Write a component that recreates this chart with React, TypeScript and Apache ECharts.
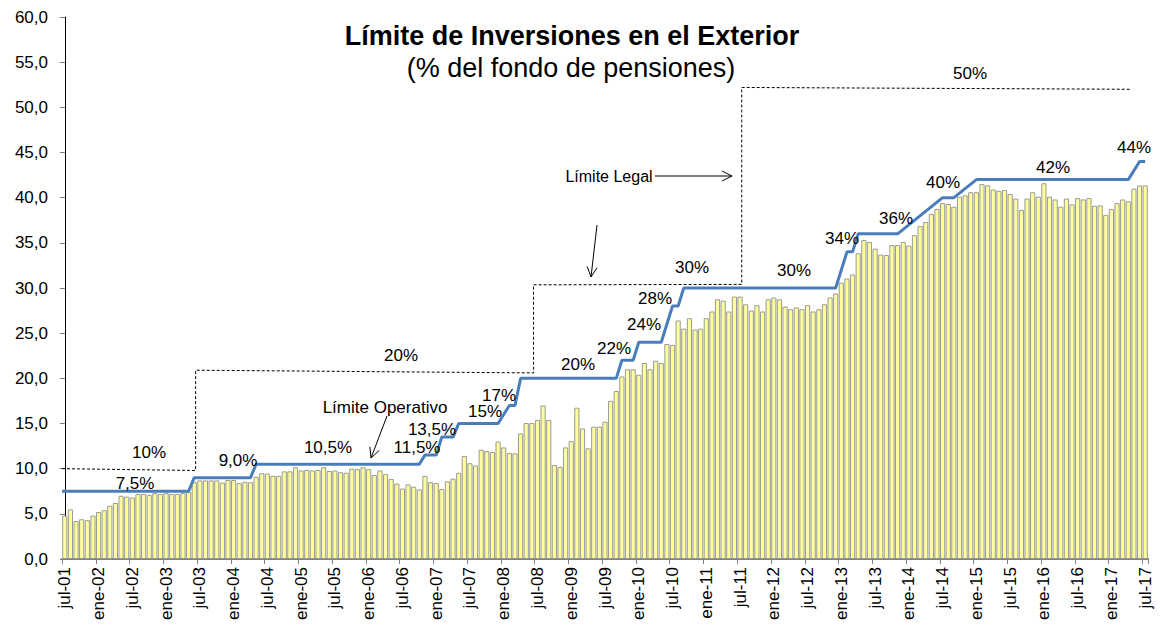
import React, { useEffect, useRef } from "react";
import * as echarts from "echarts";

const monthNames = ["ene", "feb", "mar", "abr", "may", "jun", "jul", "ago", "sep", "oct", "nov", "dic"];
const startYear = 2001;
const startMonth = 6; // jul
const monthCount = 193; // jul-01 .. jul-17

// Inversión en el exterior (% del fondo), mensual jul-01 .. jul-17
const foreignShare = [
  4.8, 5.5, 4.2, 4.4, 4.3, 4.8, 5.2, 5.4, 5.9, 6.2, 7.0, 6.9,
  6.8, 7.2, 7.2, 7.1, 7.3, 7.2, 7.3, 7.2, 7.2, 7.3, 7.4, 8.5,
  8.7, 8.7, 8.7, 8.7, 8.45, 8.75, 8.75, 8.4, 8.55, 8.5, 9.1, 9.5,
  9.45, 9.2, 9.2, 9.7, 9.7, 10.15, 9.8, 9.85, 9.8, 9.85, 10.15, 9.75,
  9.8, 9.6, 9.55, 10.0, 9.95, 10.15, 9.95, 9.3, 9.8, 9.4, 8.85, 8.35,
  7.8, 8.25, 8.0, 7.7, 9.2, 8.5, 8.4, 7.75, 8.6, 8.9, 9.55, 11.4,
  10.6, 10.35, 12.1, 11.95, 11.85, 13.0, 12.35, 11.75, 11.7, 13.9, 15.05, 15.05,
  15.4, 17.0, 15.4, 10.4, 10.2, 12.35, 13.05, 16.75, 14.45, 12.25, 14.65, 14.65,
  15.2, 17.5, 18.6, 20.2, 21.0, 21.0, 20.4, 21.7, 21.0, 21.95, 21.7, 23.8,
  23.7, 26.4, 25.5, 26.65, 25.4, 25.5, 26.65, 27.4, 28.75, 28.6, 27.4, 29.05,
  29.05, 28.2, 27.5, 28.1, 27.4, 28.75, 28.95, 28.75, 27.95, 27.65, 27.85, 27.65,
  28.1, 27.4, 27.65, 28.2, 28.95, 29.4, 30.6, 31.05, 31.5, 33.85, 35.3, 35.1,
  34.35, 33.7, 33.65, 34.75, 34.75, 35.1, 34.7, 35.85, 36.85, 37.3, 38.2, 38.75,
  39.4, 39.3, 39.0, 40.1, 40.25, 40.6, 40.6, 41.5, 41.35, 40.9, 40.75, 40.85,
  40.4, 39.9, 38.65, 39.9, 40.6, 40.1, 41.6, 40.1, 39.8, 39.0, 39.9, 39.25,
  39.95, 39.8, 39.95, 39.1, 39.15, 38.1, 38.75, 39.4, 39.8, 39.6, 41.0, 41.35,
  41.35,
];

// Límite Operativo: vértices (índice de mes, %)
const operativeX = [-0.5, 22, 23, 33, 34, 63, 64, 66, 67, 69, 70, 77, 79, 80, 81, 98, 99, 101, 102, 106, 108, 109, 110, 137, 139, 140, 141, 148, 156, 158, 162, 189, 191, 192];
const operativeY = [7.5, 7.5, 9.0, 9.0, 10.5, 10.5, 11.5, 11.5, 13.5, 13.5, 15, 15, 17, 17, 20, 20, 22, 22, 24, 24, 28, 28, 30, 30, 34, 34, 36, 36, 40, 40, 42, 42, 44, 44];

// Límite Legal: vértices (índice de mes, %)
const legalX = [-0.5, 23.25, 23.25, 83.3, 83.3, 120.3, 120.3, 189.3];
const legalY = [10.0, 9.8, 20.9, 20.6, 30.35, 30.4, 52.2, 52.0];

// Etiquetas de los límites
const labelTexts = ["10%", "7,5%", "9,0%", "20%", "10,5%", "11,5%", "13,5%", "15%", "17%", "20%", "22%", "24%", "28%", "30%", "30%", "34%", "36%", "40%", "42%", "44%", "50%"];
const labelPos: [number, number][] = [
  [149, 452], [135, 483], [238, 460], [401, 355], [328, 447], [417, 447], [432, 429], [485, 411], [499, 395],
  [578, 364], [614, 348], [644, 324], [655, 298], [692, 267], [794, 270], [842, 238], [896, 218], [943, 182],
  [1053, 167], [1134, 147], [970, 73],
];

const yTicks = { min: 0, max: 60, interval: 5 };

const FONT = '"Liberation Sans", Arial, sans-serif';

function buildCategories(): string[] {
  const out: string[] = [];
  for (let i = 0; i < monthCount; i++) {
    const m = (startMonth + i) % 12;
    const y = startYear + Math.floor((startMonth + i) / 12);
    out.push(monthNames[m] + "-" + String(y % 100).padStart(2, "0"));
  }
  return out;
}

export default function App() {
  const ref = useRef<HTMLDivElement>(null);
  useEffect(() => {
    if (!ref.current) return;
    const chart = echarts.init(ref.current, null, { renderer: "svg" });
    const categories = buildCategories();
    const operative = operativeX.map((x, i) => [x, operativeY[i]]);
    const legal = legalX.map((x, i) => [x, legalY[i]]);

    const textEls: any[] = labelTexts.map((t, i) => ({
      type: "text",
      x: labelPos[i][0],
      y: labelPos[i][1],
      style: { text: t, fill: "#000", fontSize: 17, fontFamily: FONT, align: "center", verticalAlign: "middle" },
      z: 100,
    }));

    const arrowStyle = { stroke: "#000", lineWidth: 1, fill: "none" };

    chart.setOption({
      animation: false,
      backgroundColor: "#fff",
      grid: { left: 62, right: 12, top: 17, bottom: 66, containLabel: false },
      xAxis: [
        {
          type: "category",
          data: categories,
          boundaryGap: true,
          axisLine: { lineStyle: { color: "#808080", width: 2 } },
          axisTick: { show: true, interval: 5, length: 5, lineStyle: { color: "#808080" } },
          axisLabel: { interval: 5, rotate: 90, fontSize: 17, fontFamily: FONT, color: "#000", margin: 8 },
          splitLine: { show: false },
        },
        {
          type: "value",
          min: -0.5,
          max: monthCount - 0.5,
          show: false,
          position: "top",
        },
      ],
      yAxis: {
        type: "value",
        min: yTicks.min,
        max: yTicks.max,
        interval: yTicks.interval,
        axisLine: { show: true, lineStyle: { color: "#000", width: 1 } },
        axisTick: { show: true, length: 5, lineStyle: { color: "#808080" } },
        axisLabel: {
          fontSize: 17,
          fontFamily: FONT,
          color: "#000",
          margin: 14,
          formatter: (v: number) => v.toFixed(1).replace(".", ","),
        },
        splitLine: { show: false },
      },
      series: [
        {
          type: "bar",
          name: "Inversión en el exterior",
          data: foreignShare,
          xAxisIndex: 0,
          barCategoryGap: "8%",
          itemStyle: { color: "#FFFF99", borderColor: "#9a9a9a", borderWidth: 1 },
          z: 2,
        },
        {
          type: "line",
          name: "Límite Legal",
          data: legal,
          xAxisIndex: 1,
          symbol: "none",
          lineStyle: { color: "#000", width: 1, type: [3, 2] },
          z: 3,
        },
        {
          type: "line",
          name: "Límite Operativo",
          data: operative,
          xAxisIndex: 1,
          symbol: "none",
          lineStyle: { color: "#4A7EBB", width: 3 },
          z: 4,
        },
      ],
      graphic: [
        {
          type: "text",
          x: 572,
          y: 36,
          style: { text: "Límite de Inversiones en el Exterior", fill: "#000", fontSize: 27, fontWeight: "bold", fontFamily: FONT, align: "center", verticalAlign: "middle" },
        },
        {
          type: "text",
          x: 571,
          y: 68,
          style: { text: "(% del fondo de pensiones)", fill: "#000", fontSize: 27, fontFamily: FONT, align: "center", verticalAlign: "middle" },
        },
        {
          type: "text",
          x: 609,
          y: 176,
          style: { text: "Límite Legal", fill: "#000", fontSize: 16, fontFamily: FONT, align: "center", verticalAlign: "middle" },
        },
        {
          type: "text",
          x: 385,
          y: 407,
          style: { text: "Límite Operativo", fill: "#000", fontSize: 17, fontFamily: FONT, align: "center", verticalAlign: "middle" },
        },
        ...textEls,
        { type: "line", shape: { x1: 655, y1: 176, x2: 732, y2: 176 }, style: arrowStyle },
        { type: "polyline", shape: { points: [[722, 171], [732, 176], [722, 181]] }, style: arrowStyle },
        { type: "line", shape: { x1: 597, y1: 225, x2: 591, y2: 277 }, style: arrowStyle },
        { type: "polyline", shape: { points: [[597.1, 267.7], [591, 277], [587.2, 266.5]] }, style: arrowStyle },
        { type: "line", shape: { x1: 387, y1: 416, x2: 371, y2: 458 }, style: arrowStyle },
        { type: "polyline", shape: { points: [[379.3, 450.4], [371, 458], [369.9, 446.8]] }, style: arrowStyle },
      ],
    });
    return () => chart.dispose();
  }, []);
  return <div ref={ref} style={{ position: "fixed", left: 0, top: 0, width: 1160, height: 625, background: "#fff" }} />;
}
